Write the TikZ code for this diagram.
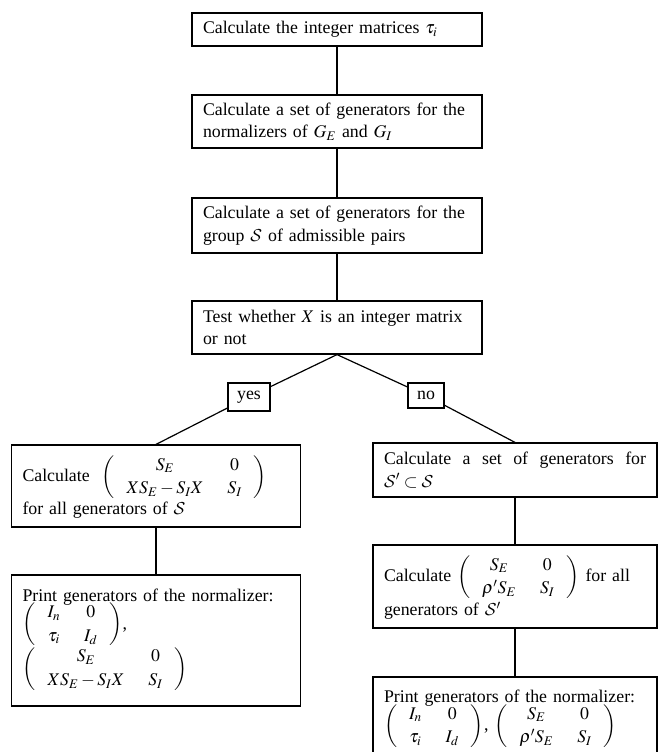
\documentclass[tikz,border=0pt]{standalone}
\usepackage{amsmath}
\usepackage{mathptmx}
\DeclareMathAlphabet{\mathcal}{OMS}{cmsy}{m}{n}
\usepackage{fontspec}
\setmainfont{Liberation Serif}
\newcommand{\mymat}[4]{\left(\renewcommand{\arraystretch}{1.05}\begin{array}{cc}#1 & #2\\ #3 & #4\end{array}\right)}
\begin{document}
\begin{tikzpicture}[x=1pt,y=-1pt,
  box/.style={draw, line width=1.2pt, inner xsep=11pt, inner ysep=1pt,
    font=\fontsize{17.8}{22.5}\selectfont\setlength{\arraycolsep}{12pt}, align=left},
  tag/.style={draw, line width=1.2pt, inner sep=1pt,
    font=\fontsize{17.8}{22.5}\selectfont},
  conn/.style={line width=1.2pt}]
\useasboundingbox (0,0) rectangle (660,752);

\node[box, minimum width=290pt, text width=268pt, minimum height=33pt] (b1) at (337,29.5)
  {Calculate the integer matrices $\tau_i$};
\node[box, minimum width=290pt, text width=268pt, minimum height=53pt] (b2) at (337,121.5)
  {Calculate a set of generators for the\\ normalizers of $G_E$ and $G_I$};
\node[box, minimum width=290pt, text width=268pt, minimum height=55pt] (b3) at (337,225.5)
  {Calculate a set of generators for the\\ group $\mathcal{S}$ of admissible pairs};
\node[box, minimum width=290pt, text width=268pt, minimum height=53pt] (b4) at (337,327.5)
  {Test whether $X$ is an integer matrix\\ or not};

\node[tag, minimum width=42pt, minimum height=28pt] (yes) at (249,397) {yes};
\node[tag, minimum width=36pt, minimum height=25pt] (no) at (426,395.5) {no};

\node[box, minimum width=289pt, text width=267pt, minimum height=82pt] (b5) at (156,486)
  {Calculate \ $\mymat{S_E}{0}{XS_E - S_IX}{S_I}$\\ for all generators of $\mathcal{S}$};
\node[box, minimum width=289pt, text width=267pt, minimum height=131pt] (b7) at (156,640.5)
  {Print generators of the normalizer:\\[-5pt]
   $\mymat{I_n}{0}{\tau_i}{I_d}$,\\[-4pt]
   $\mymat{S_E}{0}{XS_E - S_IX}{S_I}$};

\node[box, align=justify, minimum width=284pt, text width=262pt, minimum height=54pt] (b6) at (515,470)
  {Calculate a set of generators for\linebreak $\mathcal{S}'\subset\mathcal{S}$};
\node[box, minimum width=284pt, text width=262pt, minimum height=83pt] (b8) at (515,586.5)
  {Calculate $\mymat{S_E}{0}{\rho' S_E}{S_I}$ for all\\ generators of $\mathcal{S}'$};
\node[box, minimum width=284pt, text width=262pt, minimum height=86pt] (b9) at (515,720)
  {Print generators of the normalizer:\\[-5pt]
   $\mymat{I_n}{0}{\tau_i}{I_d}$, $\mymat{S_E}{0}{\rho' S_E}{S_I}$};

\draw[conn] (b1.south) -- (b2.north);
\draw[conn] (b2.south) -- (b3.north);
\draw[conn] (b3.south) -- (b4.north);
\draw[conn] (b4.south) -- (yes) -- (b5.north);
\draw[conn] (b4.south) -- (no) -- (b6.north);
\draw[conn] (b5.south) -- (b7.north);
\draw[conn] (b6.south) -- (b8.north);
\draw[conn] (b8.south) -- (b9.north);
\end{tikzpicture}
\end{document}
